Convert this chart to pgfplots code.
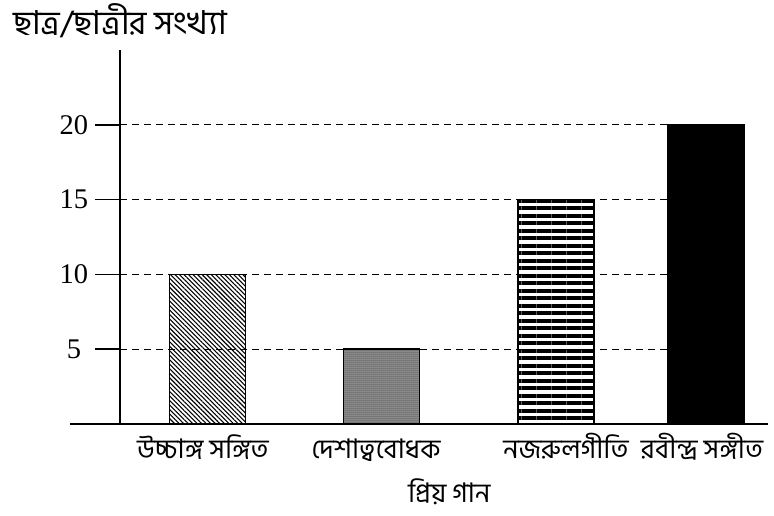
\documentclass[border=0pt]{standalone}
\usepackage{fontspec}
\setmainfont{Liberation Serif}
\newfontfamily\bn[Script=Bengali]{Hind Siliguri}
\usepackage{pgfplots}
\pgfplotsset{compat=1.18}
\usetikzlibrary{patterns.meta}

\begin{document}
\begin{tikzpicture}[x=1pt,y=1pt]
\path[use as bounding box] (0,0) rectangle (774,516);
\begin{axis}[
  at={(120pt,92pt)}, anchor=south west,
  scale only axis, width=648pt, height=374pt,
  xmin=120, xmax=768, ymin=0, ymax=25,
  axis x line=bottom, axis y line=left,
  axis line style={line width=1.5pt, -},
  x axis line style={shorten <=-50pt},
  ytick={5,10,15,20},
  tick align=outside, major tick length=25pt,
  ytick style={line width=1.5pt, black},
  xtick={203,376,566,702},
  xticklabels={উচ্চাঙ্গ সঙ্গিত, দেশাত্ববোধক, নজরুলগীতি, রবীন্দ্র সঙ্গীত},
  xtick style={draw=none},
  xticklabel style={font=\bn\fontsize{27}{30}\selectfont, anchor=base, yshift=-9pt},
  yticklabel style={font=\fontsize{28.5}{30}\selectfont, anchor=center, xshift=-21pt},
  /pgf/number format/assume math mode=true,
  xlabel={প্রিয় গান},
  xlabel style={font=\bn\fontsize{27}{30}\selectfont, at={(axis description cs:0.508,-0.2086)}, anchor=base, inner sep=0pt},
  ylabel={ছাত্র/ছাত্রীর সংখ্যা},
  ylabel style={font=\bn\fontsize{33}{36}\selectfont, at={(axis description cs:0,1.078)}, rotate=-90, anchor=center},
  clip=false,
]
\addplot[ybar, bar width=76, bar shift=0pt, draw=black, line width=1.4pt,
  pattern={Lines[angle=-45,distance=3.2pt,line width=1.1pt]}] coordinates {(207.5,10)};
\addplot[ybar, bar width=76, bar shift=0pt, draw=black, line width=1.4pt,
  preaction={fill=black!58}, pattern={Dots[distance=2pt,radius=0.5pt]}, pattern color=white] coordinates {(381.5,5)};
\addplot[ybar, bar width=76, bar shift=0pt, draw=black, line width=1.4pt,
  pattern={Lines[angle=0,distance=7.5pt,line width=4pt]}] coordinates {(556,15)};
\addplot[ybar, bar width=76, bar shift=0pt, draw=black, line width=1.4pt,
  fill=black] coordinates {(706,20)};
\pgfplotsinvokeforeach{5,10,15,20}{
  \draw[line width=1.3pt, dash pattern=on 7pt off 5pt] (axis cs:120,#1) -- (axis cs:744,#1);
}
\end{axis}
\end{tikzpicture}
\end{document}
